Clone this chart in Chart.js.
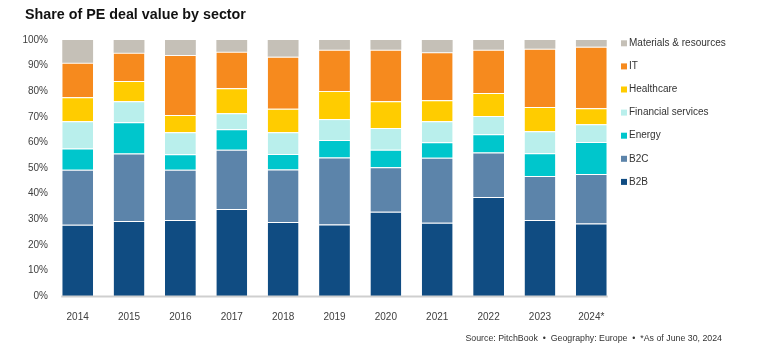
<!DOCTYPE html>
<html><head><meta charset="utf-8">
<script src="https://cdn.jsdelivr.net/npm/chart.js@4.4.1/dist/chart.umd.min.js"></script>
<style>html,body{margin:0;padding:0;background:#fff;}#wrap{width:759px;height:358px;}</style>
</head><body><div id="wrap"><canvas id="c" width="759" height="358"></canvas></div>
<script>
const years = ['2014','2015','2016','2017','2018','2019','2020','2021','2022','2023','2024*'];
const b2b        = [27.8,29.3,29.7,34.0,28.9,27.9,32.9,28.6,38.7,29.7,28.3];
const b2c        = [21.5,26.4,19.6,23.1,20.5,26.2,17.4,25.4,17.4,17.2,19.4];
const energy     = [8.3,12.2,6.1,8.0,6.1,6.8,6.8,6.1,7.1,8.9,12.5];
const financial  = [10.7,8.2,8.6,6.3,8.5,8.2,8.5,8.2,7.1,8.6,6.9];
const healthcare = [9.3,7.9,6.7,9.8,9.1,11.0,10.5,8.2,9.0,9.4,6.2];
const it         = [13.5,11.0,23.4,14.2,20.4,16.1,20.1,18.7,16.9,22.8,24.1];
const materials  = [8.9,5.0,5.9,4.6,6.5,3.8,3.8,4.8,3.8,3.4,2.6];
const seriesNames = ['B2B','B2C','Energy','Financial services','Healthcare','IT','Materials & resources'];
const seriesColors = ['#104c82','#5c84aa','#00c6cc','#b9efec','#ffcc00','#f68a1e','#c5c0b7'];
const yTickValues = [0,10,20,30,40,50,60,70,80,90,100];
const titleText = 'Share of PE deal value by sector';
const sourceText = 'Source: PitchBook  \u2022  Geography: Europe  \u2022  *As of June 30, 2024';

const FONT = '"Liberation Sans", sans-serif';
const seriesValues = [b2b,b2c,energy,financial,healthcare,it,materials];

const decor = {
  id: 'decor',
  afterDraw(chart) {
    const ctx = chart.ctx, area = chart.chartArea;
    ctx.save();
    const meta0 = chart.getDatasetMeta(0).data;
    const first = meta0[0], last = meta0[meta0.length-1];
    const y0 = chart.scales.y.getPixelForValue(0);
    ctx.strokeStyle = '#cfcfcf'; ctx.lineWidth = 2;
    ctx.beginPath();
    ctx.moveTo(first.x - first.width/2 - 1, y0 + 0.5);
    ctx.lineTo(last.x + last.width/2 + 1, y0 + 0.5);
    ctx.stroke();
    ctx.fillStyle = '#111';
    ctx.font = 'bold 14.3px ' + FONT;
    ctx.textBaseline = 'middle'; ctx.textAlign = 'left';
    ctx.fillText(titleText, 25, 15.5);
    ctx.font = '10px ' + FONT;
    const n = chart.data.datasets.length;
    for (let k = 0; k < n; k++) {
      const ds = chart.data.datasets[n-1-k];
      const yy = area.top + 3.3 + k*23.1;
      ctx.fillStyle = ds.backgroundColor;
      ctx.fillRect(area.right + 4, yy - 3, 6, 6);
      ctx.fillStyle = '#333';
      ctx.fillText(ds.label, area.right + 12, yy);
    }
    ctx.font = '8.8px ' + FONT;
    ctx.textAlign = 'right';
    ctx.fillStyle = '#333';
    ctx.fillText(sourceText, 722, 339);
    ctx.restore();
  }
};

new Chart(document.getElementById('c'), {
  type: 'bar',
  data: {
    labels: years,
    datasets: seriesValues.map((v,i) => ({
      label: seriesNames[i], data: v, backgroundColor: seriesColors[i],
      borderColor: 'rgba(255,255,255,0.35)',
      borderWidth: { top: i < seriesValues.length - 1 ? 1 : 0, bottom: 0, left: 0, right: 0 },
      borderSkipped: false,
      categoryPercentage: 1, barPercentage: 0.6
    }))
  },
  options: {
    responsive: false, animation: false, devicePixelRatio: 1,
    layout: { padding: { top: 40, right: 142, bottom: 22, left: 0 } },
    plugins: { legend: { display: false }, title: { display: false }, tooltip: { enabled: false } },
    scales: {
      x: {
        stacked: true,
        grid: { display: false, drawTicks: false }, border: { display: false },
        ticks: { padding: 15, color: '#404040', font: { family: FONT, size: 10 } },
        afterFit(s) { s.height = 40; }
      },
      y: {
        stacked: true, min: 0, max: 100,
        afterBuildTicks(s) { s.ticks = yTickValues.map(v => ({ value: v })); },
        grid: { display: false, drawTicks: false }, border: { display: false },
        ticks: { padding: 4, color: '#404040', font: { family: FONT, size: 10 }, callback: v => v + '%' },
        afterFit(s) { s.width = 52; }
      }
    }
  },
  plugins: [decor]
});
</script>
</body></html>
